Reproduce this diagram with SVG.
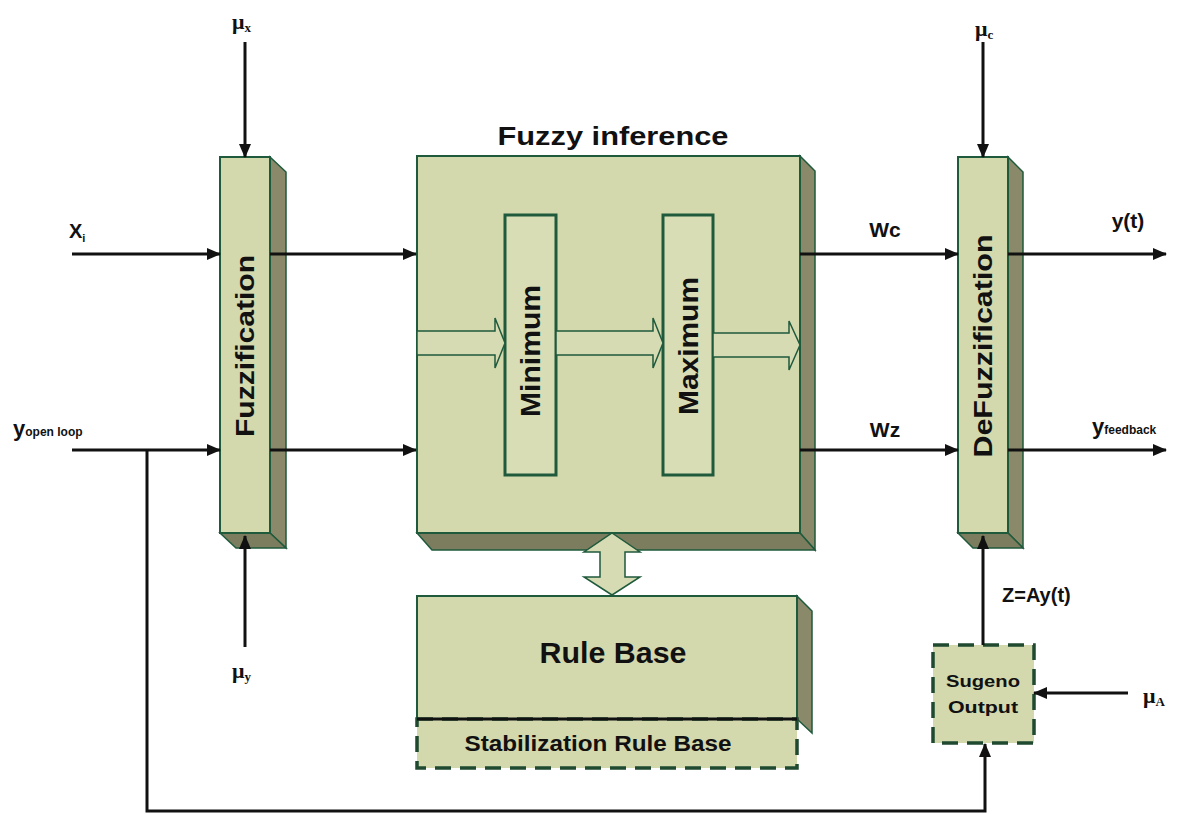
<svg xmlns="http://www.w3.org/2000/svg" width="1178" height="814" viewBox="0 0 1178 814">
<defs>
<marker id="ah" markerWidth="14" markerHeight="12" refX="13" refY="6" orient="auto" markerUnits="userSpaceOnUse">
<path d="M0,0 L14,6 L0,12 Z" fill="#111"/>
</marker>
<style>
.face{fill:#d3d8ad;stroke:#1f5a3c;stroke-width:2}
.side{fill:#8a8a6a;stroke:#1f5a3c;stroke-width:1.5}
.bot{fill:#7c7c5e;stroke:#1f5a3c;stroke-width:1.5}
.inner{fill:#d9ddb6;stroke:#1f5a3c;stroke-width:3}
.hollow{fill:#d6dbb3;stroke:#1f5a3c;stroke-width:1.5}
.dash{fill:#d3d8ad;stroke:#1f4a30;stroke-width:3.5;stroke-dasharray:16 9}
.conn{fill:none;stroke:#111;stroke-width:3}
.t{font-family:"Liberation Sans",Arial,sans-serif;font-weight:bold;fill:#111}
.m{font-family:"Liberation Serif","Times New Roman",serif;font-weight:bold;fill:#111}
</style>
</defs>
<rect width="1178" height="814" fill="#ffffff"/>

<g id="fuzzification">
<polygon class="side" points="270,157 286,172 286,548 270,533"/>
<polygon class="bot" points="220,533 270,533 286,548 236,548"/>
<rect class="face" x="220" y="157" width="50" height="376"/>
<text class="t" x="0" y="0" font-size="26" text-anchor="middle" textLength="182" lengthAdjust="spacingAndGlyphs" transform="translate(254,346) rotate(-90)">Fuzzification</text>
</g>

<g id="fuzzy-inference">
<polygon class="side" points="800,156 815,171 815,550 800,533"/>
<polygon class="bot" points="417,533 800,533 815,550 432,550"/>
<rect class="face" x="417" y="156" width="383" height="377"/>
<text class="t" x="613" y="145" font-size="25" text-anchor="middle" textLength="231" lengthAdjust="spacingAndGlyphs">Fuzzy inference</text>
<g id="minimum">
<rect class="inner" x="505" y="215" width="51" height="260"/>
<text class="t" x="0" y="0" font-size="27" text-anchor="middle" textLength="132" lengthAdjust="spacingAndGlyphs" transform="translate(540,351) rotate(-90)">Minimum</text>
</g>
<g id="maximum">
<rect class="inner" x="663" y="215" width="50" height="260"/>
<text class="t" x="0" y="0" font-size="27" text-anchor="middle" textLength="138" lengthAdjust="spacingAndGlyphs" transform="translate(698,346) rotate(-90)">Maximum</text>
</g>
</g>

<g id="defuzzification">
<polygon class="side" points="1008,157 1023,172 1023,548 1008,533"/>
<polygon class="bot" points="958,533 1008,533 1023,548 973,548"/>
<rect class="face" x="958" y="157" width="50" height="376"/>
<text class="t" x="0" y="0" font-size="26" text-anchor="middle" textLength="223" lengthAdjust="spacingAndGlyphs" transform="translate(992,346) rotate(-90)">DeFuzzification</text>
</g>

<g id="rule-base">
<polygon class="side" points="797,596 812,611 812,733 797,719"/>
<rect class="face" x="417" y="596" width="380" height="123"/>
<text class="t" x="613" y="663" font-size="29" text-anchor="middle" textLength="147" lengthAdjust="spacingAndGlyphs">Rule Base</text>
</g>

<g id="stabilization-rule-base">
<rect class="dash" x="417" y="719" width="380" height="49"/>
<line x1="417" y1="719" x2="797" y2="719" stroke="#111" stroke-width="3"/>
<text class="t" x="598" y="751" font-size="22" text-anchor="middle" textLength="267" lengthAdjust="spacingAndGlyphs">Stabilization Rule Base</text>
</g>

<g id="sugeno-output">
<rect class="dash" x="933" y="645" width="101" height="98"/>
<text class="t" x="983" y="687" font-size="17" text-anchor="middle" textLength="74" lengthAdjust="spacingAndGlyphs">Sugeno</text>
<text class="t" x="983" y="713" font-size="17" text-anchor="middle" textLength="70" lengthAdjust="spacingAndGlyphs">Output</text>
</g>

<g id="connectors">
<polygon class="hollow" points="417,331 495,331 495,318 505,343 495,368 495,355 417,355"/>
<polygon class="hollow" points="556,331 653,331 653,318 663,343 653,368 653,355 556,355"/>
<polygon class="hollow" points="713,333 789,333 789,321 800,345 789,370 789,357 713,357"/>
<polygon class="hollow" points="612,533 640,552 625,552 625,577 640,577 612,595 584,577 600,577 600,552 584,552"/>

<line class="conn" x1="245" y1="42" x2="245" y2="157" marker-end="url(#ah)"/>
<line class="conn" x1="245" y1="647" x2="245" y2="536" marker-end="url(#ah)"/>
<line class="conn" x1="72" y1="254" x2="220" y2="254" marker-end="url(#ah)"/>
<line class="conn" x1="72" y1="450" x2="220" y2="450" marker-end="url(#ah)"/>
<line class="conn" x1="270" y1="254" x2="416" y2="254" marker-end="url(#ah)"/>
<line class="conn" x1="270" y1="450" x2="416" y2="450" marker-end="url(#ah)"/>
<line class="conn" x1="800" y1="254" x2="958" y2="254" marker-end="url(#ah)"/>
<line class="conn" x1="800" y1="450" x2="958" y2="450" marker-end="url(#ah)"/>
<line class="conn" x1="1008" y1="254" x2="1166" y2="254" marker-end="url(#ah)"/>
<line class="conn" x1="1008" y1="450" x2="1166" y2="450" marker-end="url(#ah)"/>
<line class="conn" x1="983" y1="42" x2="983" y2="157" marker-end="url(#ah)"/>
<line class="conn" x1="983" y1="645" x2="983" y2="536" marker-end="url(#ah)"/>
<line class="conn" x1="1128" y1="693" x2="1034" y2="693" marker-end="url(#ah)"/>
<polyline class="conn" points="147,450 147,811 985,811 985,744" marker-end="url(#ah)"/>
</g>

<g id="labels">
<text class="m" x="232" y="29" font-size="22">μ<tspan font-size="13" dy="3">x</tspan></text>
<text class="m" x="232" y="678" font-size="22">μ<tspan font-size="13" dy="3">y</tspan></text>
<text class="m" x="975" y="36" font-size="22">μ<tspan font-size="13" dy="3">c</tspan></text>
<text class="m" x="1143" y="703" font-size="22">μ<tspan font-size="13" dy="3">A</tspan></text>
<text class="t" x="69" y="238" font-size="20">X<tspan font-size="11" dy="4">i</tspan></text>
<text class="t" x="13" y="436" font-size="22">y<tspan font-size="12">open loop</tspan></text>
<text class="t" x="885" y="237" font-size="21" text-anchor="middle">Wc</text>
<text class="t" x="885" y="437" font-size="21" text-anchor="middle">Wz</text>
<text class="t" x="1128" y="228" font-size="21" text-anchor="middle">y(t)</text>
<text class="t" x="1092" y="434" font-size="22">y<tspan font-size="12">feedback</tspan></text>
<text class="t" x="1002" y="602" font-size="20">Z=Ay(t)</text>
</g>
</svg>
